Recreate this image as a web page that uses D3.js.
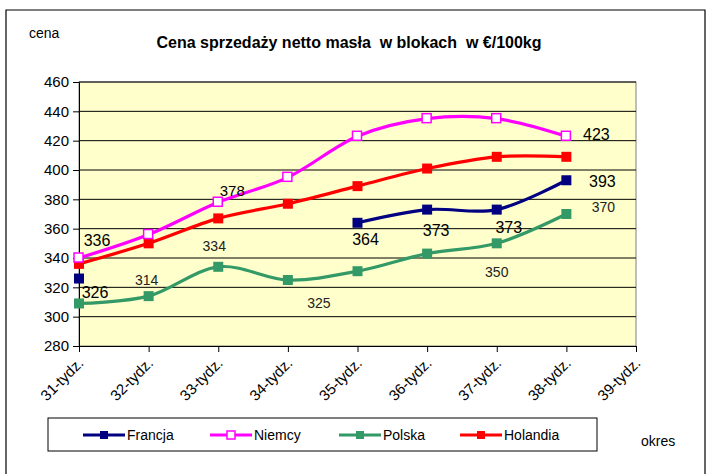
<!DOCTYPE html>
<html>
<head>
<meta charset="utf-8">
<script src="https://cdn.jsdelivr.net/npm/d3@7"></script>
<style>
  body { margin: 0; background: #fff; }
  svg { font-family: "Liberation Sans", Arial, sans-serif; }
</style>
</head>
<body>
<div class="chart"></div>
<script>
// data
const weeks = ["31-tydz.", "32-tydz.", "33-tydz.", "34-tydz.", "35-tydz.", "36-tydz.", "37-tydz.", "38-tydz.", "39-tydz."];
const yTicks = [280, 300, 320, 340, 360, 380, 400, 420, 440, 460];
const seriesNames = ["Francja", "Niemcy", "Polska", "Holandia"];
const francja = [326, null, null, null, 364, 373, 373, 393];
const niemcy = [340, 356, 378, 395, 423, 435, 435, 423];
const polska = [309, 314, 334, 325, 331, 343, 350, 370];
const holandia = [336, 350, 367, 377, 389, 401, 409, 409];
// which points carry a value label: [series, week index]
const labelled = [
    ["Francja", 0], ["Francja", 4], ["Francja", 5], ["Francja", 6], ["Francja", 7],
    ["Niemcy", 2], ["Niemcy", 7],
    ["Polska", 1], ["Polska", 2], ["Polska", 3], ["Polska", 6], ["Polska", 7],
    ["Holandia", 0]
];

//layout
const W = 711, H = 474;
const plotL = 79, plotR = 636, plotT = 82, plotB = 346;
const colors = { Francja: "#000080", Niemcy: "#ff00ff", Polska: "#339966", Holandia: "#ff0000" };
const values = { Francja: francja, Niemcy: niemcy, Polska: polska, Holandia: holandia };
// label offsets from the point (dx, dy of text centre) and font size
const labelStyle = {
    "Francja-0": [16, 14, 16], "Francja-4": [8, 17, 16], "Francja-5": [9, 21, 16],
    "Francja-6": [12, 18, 16], "Francja-7": [36, 1, 16],
    "Niemcy-2": [14, -12, 15], "Niemcy-7": [30, -2, 16],
    "Polska-1": [-2, -16, 14], "Polska-2": [-4, -21, 14], "Polska-3": [31, 23, 14],
    "Polska-6": [0, 29, 14], "Polska-7": [37, -7, 14],
    "Holandia-0": [18, -23, 16]
};

const svg = d3.select(".chart").append("svg")
    .attr("width", W).attr("height", H);

// outer frame
svg.append("path")
    .attr("d", `M6,${H} V10 H705 V${H}`)
    .attr("fill", "none").attr("stroke", "#000").attr("stroke-width", 1.2);

const x = d3.scalePoint().domain(weeks).range([plotL, plotR]);
const y = d3.scaleLinear().domain([280, 460]).range([plotB, plotT]);

// plot area
svg.append("rect")
    .attr("x", plotL).attr("y", plotT)
    .attr("width", plotR - plotL).attr("height", plotB - plotT)
    .attr("fill", "#ffffcc").attr("stroke", "#808080");

// gridlines
svg.append("g").selectAll("line")
    .data(yTicks.slice(1))
    .enter().append("line")
    .attr("x1", plotL).attr("x2", plotR)
    .attr("y1", d => y(d)).attr("y2", d => y(d))
    .attr("stroke", "#000").attr("stroke-width", 1);

// y axis
const yAxis = svg.append("g")
    .attr("transform", `translate(${plotL},0)`)
    .call(d3.axisLeft(y).tickValues(yTicks).tickSize(6).tickPadding(4));
yAxis.select(".domain").attr("stroke", "#000");
yAxis.selectAll("text").attr("font-size", 15).attr("fill", "#000")
    .attr("font-family", "Liberation Sans, Arial, sans-serif");

// x axis
const xAxis = svg.append("g")
    .attr("transform", `translate(0,${plotB})`)
    .call(d3.axisBottom(x).tickSize(6).tickSizeOuter(0));
xAxis.select(".domain").attr("stroke", "#000");
xAxis.selectAll("text")
    .attr("font-size", 15).attr("fill", "#000")
    .attr("font-family", "Liberation Sans, Arial, sans-serif")
    .attr("text-anchor", "end")
    .attr("transform", "translate(5,18) rotate(-45)")
    .attr("dy", 0).attr("y", 0).attr("x", 0);

// lines
const line = d3.line()
    .defined(d => d.v != null)
    .x(d => x(weeks[d.i]))
    .y(d => y(d.v))
    .curve(d3.curveCatmullRom.alpha(0));

const drawOrder = ["Polska", "Holandia", "Niemcy", "Francja"];
drawOrder.forEach(name => {
    const pts = values[name].map((v, i) => ({ v: v, i: i }));
    svg.append("path")
        .datum(pts)
        .attr("d", line)
        .attr("fill", "none")
        .attr("stroke", colors[name])
        .attr("stroke-width", 3.2);
    svg.append("g").selectAll("rect")
        .data(pts.filter(d => d.v != null))
        .enter().append("rect")
        .attr("x", d => x(weeks[d.i]) - 5)
        .attr("y", d => y(d.v) - 5)
        .attr("width", name === "Niemcy" ? 9 : 10)
        .attr("height", name === "Niemcy" ? 9 : 10)
        .attr("fill", name === "Niemcy" ? "#fff" : colors[name])
        .attr("stroke", name === "Niemcy" ? colors[name] : "none")
        .attr("stroke-width", 1.5);
});

// value labels
svg.append("g").selectAll("text")
    .data(labelled)
    .enter().append("text")
    .attr("x", d => x(weeks[d[1]]) + labelStyle[d[0] + "-" + d[1]][0])
    .attr("y", d => y(values[d[0]][d[1]]) + labelStyle[d[0] + "-" + d[1]][1])
    .attr("dy", "0.35em")
    .attr("text-anchor", "middle")
    .attr("font-size", d => labelStyle[d[0] + "-" + d[1]][2])
    .attr("fill", d => d[0] === "Polska" ? "#222" : "#000")
    .text(d => values[d[0]][d[1]]);

// titles
svg.append("text")
    .attr("x", 349).attr("y", 48)
    .attr("text-anchor", "middle")
    .attr("font-size", 16).attr("font-weight", "bold")
    .style("white-space", "pre")
    .text("Cena sprzedaży netto masła  w blokach  w €/100kg");
svg.append("text")
    .attr("x", 29).attr("y", 38)
    .attr("font-size", 14)
    .text("cena");
svg.append("text")
    .attr("x", 641).attr("y", 446)
    .attr("font-size", 14)
    .text("okres");

// legend
const legend = svg.append("g");
legend.append("rect")
    .attr("x", 48).attr("y", 418).attr("width", 549).attr("height", 33)
    .attr("fill", "#fff").attr("stroke", "#000");
const legendX = [83, 210, 339, 460];
const item = legend.selectAll(".item")
    .data(seriesNames)
    .enter().append("g")
    .attr("transform", (d, i) => `translate(${legendX[i]},435)`);
item.append("line")
    .attr("x1", 0).attr("x2", 42)
    .attr("stroke", d => colors[d]).attr("stroke-width", 3.2);
item.append("rect")
    .attr("x", 17).attr("y", -4).attr("width", 8).attr("height", 8)
    .attr("fill", d => d === "Niemcy" ? "#fff" : colors[d])
    .attr("stroke", d => d === "Niemcy" ? colors[d] : "none")
    .attr("stroke-width", 1.5);
item.append("text")
    .attr("x", 44).attr("dy", "0.35em")
    .attr("font-size", 14)
    .text(d => d);
</script>
</body>
</html>
